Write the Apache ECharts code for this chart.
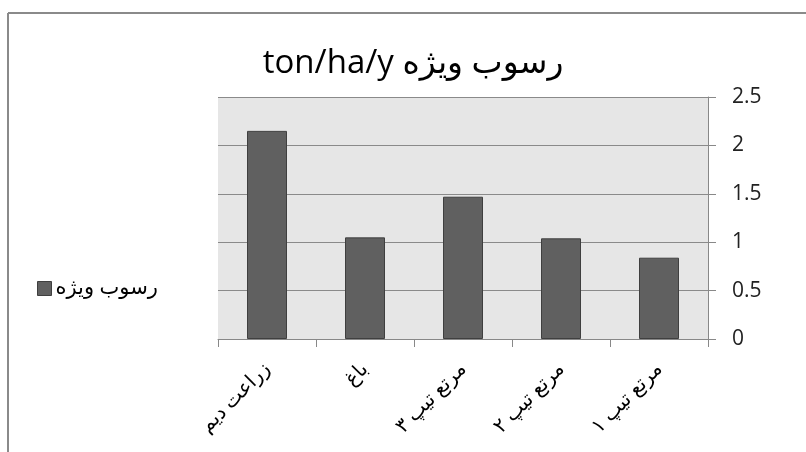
<!DOCTYPE html>
<html>
<head>
<meta charset="utf-8">
<script src="https://cdn.jsdelivr.net/npm/echarts@6/dist/echarts.min.js"></script>
<style>
html,body{margin:0;padding:0;background:#fff;}
#c{width:806px;height:452px;}
</style>
</head>
<body>
<div id="c"></div>
<script>
const categories = ['زراعت دیم', 'باغ', 'مرتع تیپ ۳', 'مرتع تیپ ۲', 'مرتع تیپ ۱'];
const values = [2.15, 1.05, 1.47, 1.04, 0.84];
const seriesName = 'رسوب ویژه';
const titleText = 'ton/ha/y رسوب ویژه';

const FONT = '"Open Sans", "DejaVu Sans", sans-serif';
const chart = echarts.init(document.getElementById('c'), null, {renderer: 'canvas'});
chart.setOption({
  animation: false,
  backgroundColor: '#ffffff',
  title: {
    text: titleText,
    left: 413, top: 47, padding: 0,
    textAlign: 'center',
    textStyle: {fontFamily: FONT, fontSize: 33, fontWeight: 'normal', color: '#000'}
  },
  legend: {
    data: [seriesName],
    left: 37, top: 278, padding: 0,
    icon: 'rect', itemWidth: 14, itemHeight: 14, itemGap: 4,
    textStyle: {fontFamily: FONT, fontSize: 21, color: '#000', padding: [0, 0, 0, -1]},
    itemStyle: {borderColor: '#3f3f3f', borderWidth: 1}
  },
  grid: {left: 218, right: 98, top: 97, bottom: 113, show: true, backgroundColor: '#e6e6e6', borderWidth: 0},
  xAxis: {
    type: 'category',
    data: categories,
    axisLine: {show: true, lineStyle: {color: '#888', width: 1}},
    axisTick: {show: true, length: 8, lineStyle: {color: '#888'}},
    axisLabel: {rotate: 45, margin: 27, fontFamily: FONT, fontSize: 20, color: '#000', interval: 0}
  },
  yAxis: {
    type: 'value',
    position: 'right',
    min: 0, max: 2.5, interval: 0.5,
    axisLine: {show: true, lineStyle: {color: '#888', width: 1}},
    axisTick: {show: true, length: 8, lineStyle: {color: '#888'}},
    axisLabel: {margin: 24, fontFamily: FONT, fontSize: 21, color: '#222'},
    splitLine: {show: true, lineStyle: {color: '#8a8a8a', width: 1}}
  },
  series: [{
    name: seriesName,
    type: 'bar',
    data: values,
    barWidth: 40,
    itemStyle: {color: '#606060', borderColor: '#3f3f3f', borderWidth: 1}
  }],
  graphic: [
    {type: 'line', shape: {x1: 8, y1: 13, x2: 806, y2: 13}, style: {stroke: '#8a8a8a', lineWidth: 2}, silent: true},
    {type: 'line', shape: {x1: 8, y1: 13, x2: 8, y2: 452}, style: {stroke: '#8a8a8a', lineWidth: 2}, silent: true}
  ]
});
</script>
</body>
</html>
